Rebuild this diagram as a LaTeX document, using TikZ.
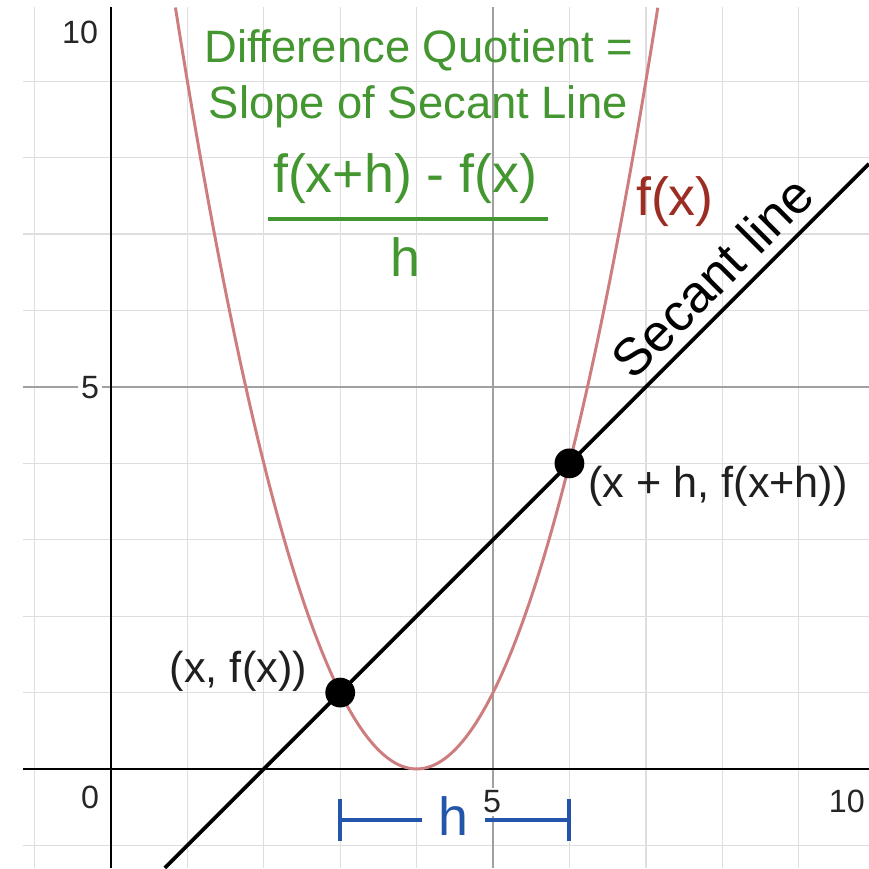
\documentclass[tikz,border=0pt]{standalone}
\usepackage{fontspec}
\setmainfont{Liberation Sans}

\begin{document}
\begin{tikzpicture}[
    x=1cm,
    y=1cm,
    minor grid/.style={draw=gridMinor, line width=0.5pt},
    major grid/.style={draw=gridMajor, line width=0.7pt},
    axis line/.style={draw=black, line width=1.1pt},
    curve line/.style={draw=curveRed, line width=1.1pt},
    secant line/.style={draw=black, line width=1.4pt},
    point dot/.style={circle, fill=black, inner sep=0pt, minimum size=0.39cm},
    tick label/.style={font=\fontsize{12}{14}\selectfont, text=black!85, fill=white, inner sep=1pt},
    point label/.style={font=\fontsize{16.1}{19}\selectfont, text=black!88, inner sep=0pt},
    quotient text/.style={font=\fontsize{16.9}{20}\selectfont, text=quotientGreen, inner sep=0pt, anchor=base},
    fraction text/.style={font=\fontsize{20}{24}\selectfont, text=quotientGreen, inner sep=0pt, anchor=base},
    quotient bar/.style={draw=quotientGreen, line width=1.5pt},
    h bracket/.style={draw=bracketBlue, line width=1.5pt},
    h label/.style={font=\fontsize{20}{24}\selectfont, text=bracketBlue, inner sep=6pt}
]

\definecolor{gridMinor}{RGB}{222,222,222}
\definecolor{gridMajor}{RGB}{160,160,160}
\definecolor{curveRed}{RGB}{205,125,125}
\definecolor{curveLabelRed}{RGB}{155,45,35}
\definecolor{quotientGreen}{RGB}{68,150,48}
\definecolor{bracketBlue}{RGB}{35,85,170}

% Page frame and plotting window.
\useasboundingbox (-1.453,-1.296) rectangle (9.921,10.065);
\fill[white] (-1.453,-1.296) rectangle (9.921,10.065);
\coordinate (origin) at (0,0);
\coordinate (plotSW) at (-1.15,-1.296);
\coordinate (plotNE) at (9.921,9.97);

% Grid, one unit apart, with darker lines at 5.
\draw[minor grid, step=1] (plotSW) grid (plotNE);
\draw[major grid, step=5] (plotSW) grid (plotNE);

% Axes.
\draw[axis line] (plotSW |- origin) -- (plotNE |- origin);
\draw[axis line] (origin |- plotSW) -- (origin |- plotNE);

% Tick labels.
\node[tick label] (yTen) at (-0.405,9.647) {10};
\node[tick label] (yFive) at (-0.275,4.987) {5};
\node[tick label] (zeroLabel) at (-0.275,-0.366) {0};
\node[tick label] (xFive) at (4.987,-0.43) {5};
\node[tick label] (xTen) at (9.63,-0.43) {10};

% f(x) = (x-4)^2 and the secant line y = x-2.
\draw[curve line, domain=0.843:7.157, samples=120, smooth]
  plot (\x, {(\x-4)^2});
\coordinate (secantLow) at (0.704,-1.296);
\coordinate (secantHigh) at (9.921,7.921);
\draw[secant line] (secantLow) -- (secantHigh);

% The two points on the curve.
\node[point dot] (ptX) at (3,1) {};
\node[point dot] (ptXh) at (6,4) {};
\node[point label, anchor=base east] (ptXLabel) at (2.57,1.13) {(x, f(x))};
\node[point label, anchor=base west] (ptXhLabel) at (6.24,3.55) {(x + h, f(x+h))};

% Curve and line labels.
\node[font=\fontsize{20}{24}\selectfont, text=curveLabelRed, inner sep=0pt, anchor=base]
  (curveLabel) at (7.38,7.25) {f(x)};
\node[font=\fontsize{19.5}{23}\selectfont, inner sep=0pt, rotate=45]
  (secantLabel) at (7.87,6.44) {Secant line};

% Difference quotient.
\node[quotient text] (quotientTitle) at (4.03,9.25) {Difference Quotient =};
\node[quotient text] (quotientSlope) at (4.02,8.52) {Slope of Secant Line};
\node[fraction text] (quotientNum) at (3.85,7.54) {f(x+h) - f(x)};
\node[fraction text] (quotientDen) at (3.85,6.44) {h};
\coordinate (barLeft) at (2.05,7.20);
\coordinate (barRight) at (5.72,7.20);
\draw[quotient bar] (barLeft) -- (barRight);

% Width h between the two x values.
\coordinate (hLeft) at (3,-0.668);
\coordinate (hRight) at (6,-0.668);
\node[h label] (hLabel) at (4.48,-0.615) {h};
\draw[h bracket] (hLeft) -- (hLabel.west |- hLeft);
\draw[h bracket] (hLabel.east |- hRight) -- (hRight);
\draw[h bracket] ([yshift=-0.275cm]hLeft) -- ([yshift=0.275cm]hLeft);
\draw[h bracket] ([yshift=-0.275cm]hRight) -- ([yshift=0.275cm]hRight);

\end{tikzpicture}
\end{document}
